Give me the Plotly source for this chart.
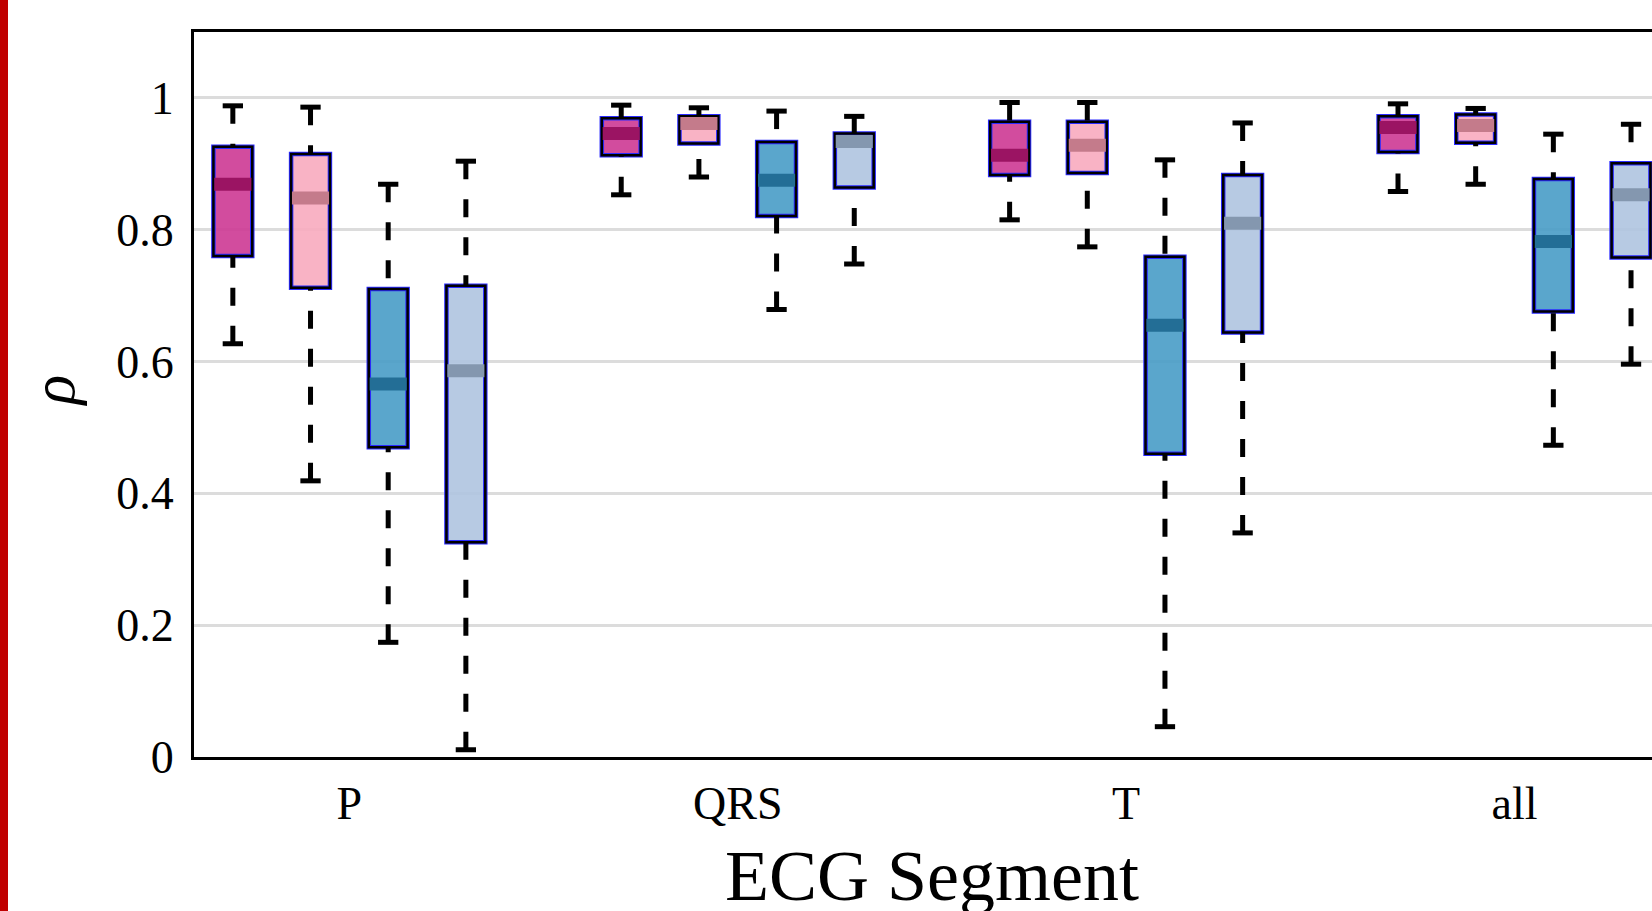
import plotly.graph_objects as go

categories = ["P", "QRS", "T", "all"]

series_names = ["Series 1", "Series 2", "Series 3", "Series 4"]

upper_s1 = [0.988, 0.989, 0.993, 0.991]
q3_s1 = [0.926, 0.969, 0.964, 0.972]
median_s1 = [0.869, 0.946, 0.913, 0.955]
q1_s1 = [0.760, 0.913, 0.883, 0.918]
lower_s1 = [0.627, 0.853, 0.815, 0.858]

upper_s2 = [0.986, 0.985, 0.993, 0.984]
q3_s2 = [0.915, 0.972, 0.964, 0.975]
median_s2 = [0.848, 0.961, 0.928, 0.958]
q1_s2 = [0.712, 0.931, 0.886, 0.932]
lower_s2 = [0.419, 0.880, 0.774, 0.869]

upper_s3 = [0.869, 0.980, 0.906, 0.945]
q3_s3 = [0.710, 0.933, 0.759, 0.877]
median_s3 = [0.566, 0.875, 0.655, 0.782]
q1_s3 = [0.470, 0.821, 0.460, 0.676]
lower_s3 = [0.174, 0.679, 0.046, 0.473]

upper_s4 = [0.904, 0.972, 0.962, 0.960]
q3_s4 = [0.715, 0.946, 0.883, 0.901]
median_s4 = [0.586, 0.934, 0.810, 0.853]
q1_s4 = [0.326, 0.864, 0.644, 0.758]
lower_s4 = [0.011, 0.748, 0.340, 0.596]

y_tick_values = [0, 0.2, 0.4, 0.6, 0.8, 1]
y_tick_labels = ["0", "0.2", "0.4", "0.6", "0.8", "1"]

series = [
    (series_names[0], upper_s1, q3_s1, median_s1, q1_s1, lower_s1),
    (series_names[1], upper_s2, q3_s2, median_s2, q1_s2, lower_s2),
    (series_names[2], upper_s3, q3_s3, median_s3, q1_s3, lower_s3),
    (series_names[3], upper_s4, q3_s4, median_s4, q1_s4, lower_s4),
]

fill_colors = ["rgba(205,57,147,0.9)", "rgba(248,171,191,0.9)",
               "rgba(72,156,198,0.9)", "rgba(175,196,224,0.9)"]
median_colors = ["#9b1463", "#c47b8b", "#236e96", "#8497af"]
offsets = [-0.3, -0.1, 0.1, 0.3]
box_width = 0.1

fig = go.Figure()

for k, (name, up, q3, med, q1, lo) in enumerate(series):
    xs = [i + offsets[k] for i in range(len(categories))]
    # dashed whiskers (start at fence, go toward box)
    wx, wy = [], []
    for x, u, a, b, l in zip(xs, up, q3, q1, lo):
        wx += [x, x, None, x, x, None]
        wy += [u, a, None, l, b, None]
    fig.add_trace(go.Scatter(x=wx, y=wy, mode="lines", name=name,
                             line=dict(color="black", width=5, dash="18px,20px"),
                             showlegend=False, hoverinfo="skip"))
    # caps
    fig.add_trace(go.Scatter(x=xs + xs, y=up + lo, mode="markers", name=name,
                             marker=dict(symbol="line-ew", size=14.5,
                                         line=dict(color="black", width=5)),
                             showlegend=False, hoverinfo="skip"))
    # box body
    fig.add_trace(go.Bar(x=xs, y=[a - b for a, b in zip(q3, q1)], base=q1,
                         width=box_width, name=name,
                         marker=dict(color=fill_colors[k],
                                     line=dict(color="#2a2aff", width=4.5)),
                         showlegend=False))
    fig.add_trace(go.Bar(x=xs, y=[a - b for a, b in zip(q3, q1)], base=q1,
                         width=box_width, name=name,
                         marker=dict(color="rgba(0,0,0,0)",
                                     line=dict(color="black", width=2.5)),
                         showlegend=False))
    # median band
    fig.add_trace(go.Scatter(x=xs, y=med, mode="markers", name=name,
                             marker=dict(symbol="line-ew", size=26.5,
                                         line=dict(color=median_colors[k], width=13)),
                             showlegend=False, hoverinfo="skip"))

font_family = "Liberation Serif, Times New Roman, serif"

fig.update_layout(
    width=1652, height=911,
    margin=dict(l=194, r=0, t=32, b=154),
    paper_bgcolor="white", plot_bgcolor="white",
    barmode="overlay",
    showlegend=False,
    font=dict(family=font_family, color="black", size=46),
    xaxis=dict(range=[-0.4, 3.354], tickmode="array",
               tickvals=list(range(len(categories))), ticktext=categories,
               showline=True, linecolor="black", linewidth=3, mirror=True,
               showgrid=False, zeroline=False, ticks="",
               ticklabelstandoff=4,
               tickfont=dict(family=font_family, size=46, color="black")),
    yaxis=dict(range=[0, 1.1], tickmode="array", tickvals=y_tick_values,
               ticktext=y_tick_labels,
               showline=True, linecolor="black", linewidth=3,
               showgrid=True, gridcolor="#dcdcdc", gridwidth=3,
               zeroline=False, ticks="", ticklabelstandoff=8,
               tickfont=dict(family=font_family, size=46, color="black")),
    annotations=[
        dict(text="ECG Segment", xref="paper", yref="paper",
             x=0.506, y=-0.164, xanchor="center", yanchor="middle",
             showarrow=False, font=dict(family=font_family, size=72, color="black")),
        dict(text="<i>ρ</i>", xref="paper", yref="paper",
             x=-0.097, y=0.505, xanchor="center", yanchor="middle", textangle=-90,
             showarrow=False, font=dict(family=font_family, size=62, color="black")),
    ],
    shapes=[
        dict(type="rect", xref="paper", yref="paper",
             x0=-194 / 1458, x1=(8 - 194) / 1458, y0=-0.5, y1=1.5,
             fillcolor="#c00000", line=dict(width=0), layer="above"),
    ],
)

fig.write_html("out.html")
